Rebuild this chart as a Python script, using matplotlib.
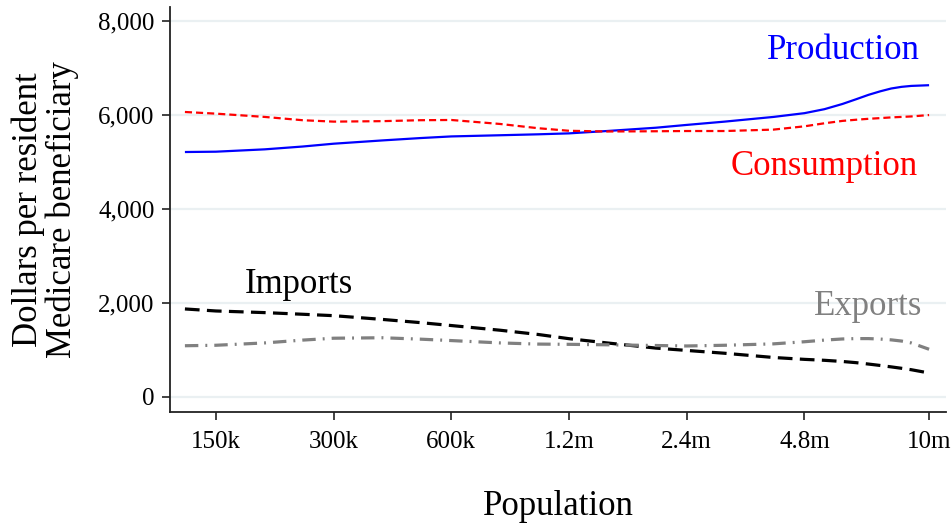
import numpy as np
import matplotlib
matplotlib.use("Agg")
import matplotlib.pyplot as plt
from matplotlib.ticker import FuncFormatter, NullLocator

plt.rcParams['font.family'] = ['Liberation Serif', 'DejaVu Serif']

# population of the region (log scale on x)
population = [125e3, 150e3, 200e3, 250e3, 300e3, 400e3, 500e3, 600e3, 800e3, 1.0e6, 1.2e6,
              1.5e6, 2.0e6, 2.4e6, 3.0e6, 4.0e6, 4.8e6, 5.4e6, 6.0e6, 6.5e6, 7.0e6, 7.5e6,
              8.0e6, 8.5e6, 9.0e6, 10.0e6]

# dollars per resident Medicare beneficiary
production = [5213, 5220, 5270, 5330, 5390, 5460, 5510, 5545, 5570, 5590, 5610,
              5660, 5730, 5790, 5860, 5960, 6040, 6125, 6235, 6335, 6430, 6505,
              6565, 6600, 6620, 6635]
consumption = [6065, 6030, 5960, 5890, 5860, 5870, 5890, 5895, 5810, 5720, 5665,
               5650, 5655, 5660, 5660, 5690, 5760, 5825, 5875, 5900, 5920, 5935,
               5950, 5960, 5970, 6000]
imports = [1873, 1830, 1795, 1760, 1730, 1650, 1582, 1520, 1420, 1330, 1240,
           1150, 1040, 990, 930, 840, 800, 780, 755, 730, 700, 670,
           640, 610, 580, 510]
exports = [1090, 1100, 1150, 1210, 1250, 1260, 1230, 1200, 1150, 1125, 1120,
           1110, 1095, 1085, 1100, 1130, 1175, 1210, 1234, 1242, 1242, 1232,
           1215, 1190, 1150, 1015]

xticks = [150e3, 300e3, 600e3, 1.2e6, 2.4e6, 4.8e6, 10e6]
xtick_labels = ["150k", "300k", "600k", "1.2m", "2.4m", "4.8m", "10m"]
yticks = [0, 2000, 4000, 6000, 8000]

fig = plt.figure(figsize=(9.53, 5.29), dpi=100)
ax = fig.add_axes([0.1784, 0.2212, 0.8143, 0.7656])

ax.plot(population, production, color="#0000ff", lw=1.6, solid_capstyle="butt")
ax.plot(population, consumption, color="#ff0000", lw=1.6, dashes=(3.2, 1.8))
ax.plot(population, imports, color="black", lw=2.3, dashes=(4.6, 2.3))
ax.plot(population, exports, color="#808080", lw=2.3, dashes=(4.2, 2.2, 0.6, 2.2))

ax.set_xscale("log")
ax.set_xlim(114.5e3, 11.05e6)
ax.set_ylim(-320, 8300)
ax.set_xticks(xticks)
ax.set_xticklabels(xtick_labels)
ax.xaxis.set_minor_locator(NullLocator())
ax.set_yticks(yticks)
ax.yaxis.set_major_formatter(FuncFormatter(lambda v, p: f"{int(v):,}"))

ax.grid(axis="y", color="#eaf0f2", lw=1.6)
ax.set_axisbelow(True)
for side in ["top", "right"]:
    ax.spines[side].set_visible(False)
for side in ["left", "bottom"]:
    ax.spines[side].set_linewidth(1.3)
    ax.spines[side].set_color("#222222")

ax.tick_params(axis="both", length=6, width=1.2, color="#222222", labelsize=18)
ax.tick_params(axis="y", pad=5)
ax.tick_params(axis="x", pad=8)

ax.set_xlabel("Population", fontsize=25, labelpad=26)
ax.set_ylabel("Dollars per resident\nMedicare beneficiary", fontsize=25, labelpad=14,
              linespacing=1.0)

ax.text(9.48e6, 7193, "Production", color="#0000ff", fontsize=25, ha="right", va="baseline")
ax.text(9.38e6, 4724, "Consumption", color="#ff0000", fontsize=25, ha="right", va="baseline")
ax.text(178e3, 2220, "Imports", color="black", fontsize=25, ha="left", va="baseline")
ax.text(9.6e6, 1745, "Exports", color="#808080", fontsize=25, ha="right", va="baseline")

fig.savefig("out.png", dpi=100)
